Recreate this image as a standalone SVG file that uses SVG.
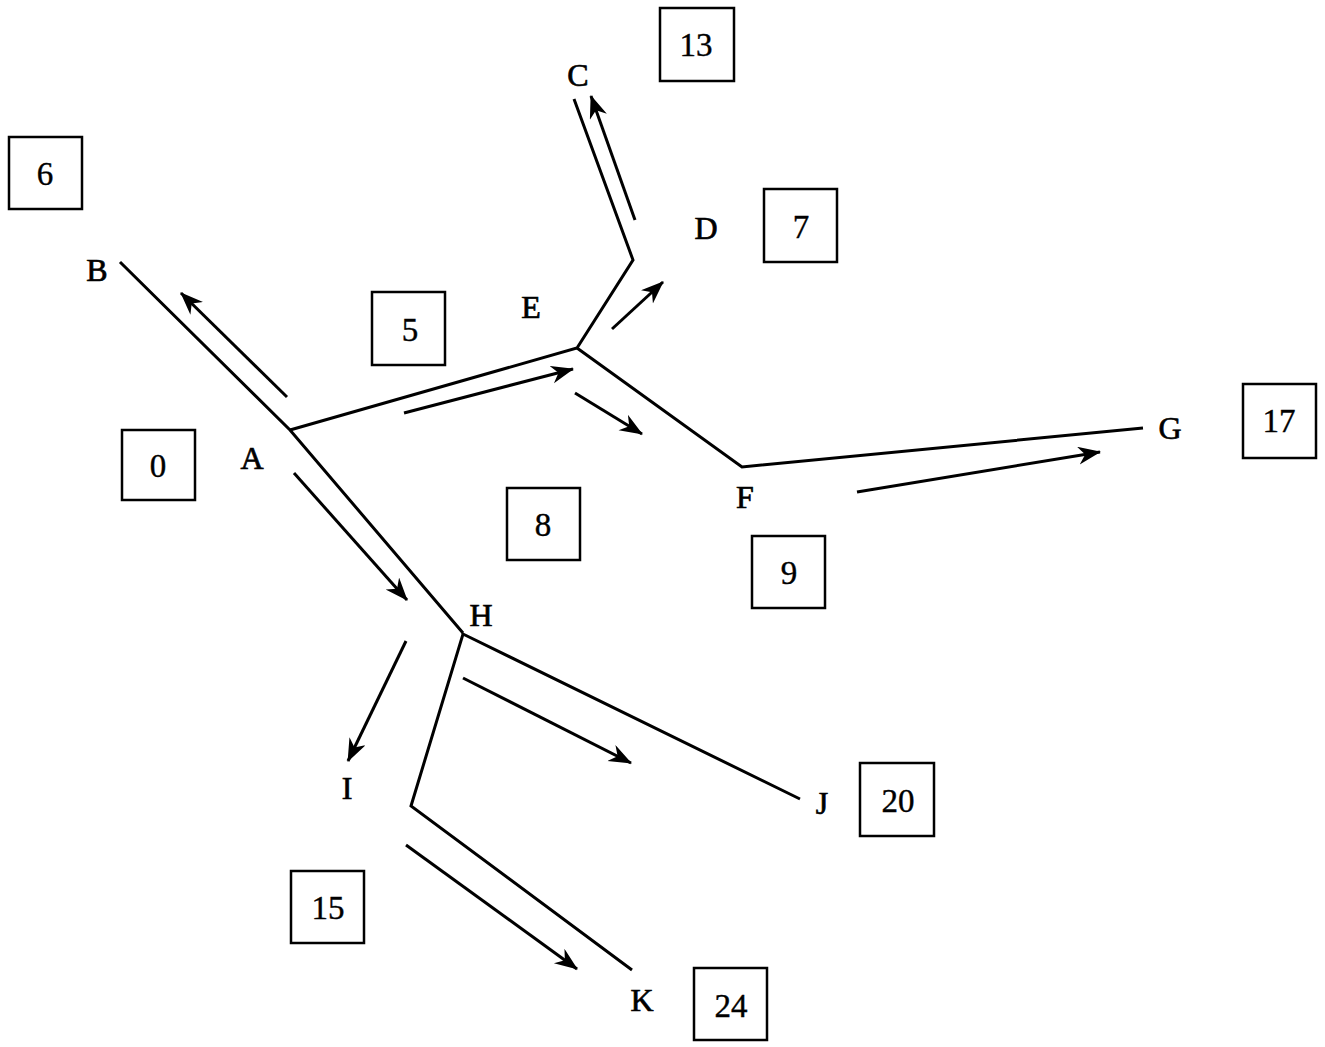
<svg xmlns="http://www.w3.org/2000/svg" width="1325" height="1047" viewBox="0 0 1325 1047">
<defs>
<marker id="ah" markerUnits="userSpaceOnUse" markerWidth="26" markerHeight="20" refX="22" refY="9" orient="auto">
<path d="M0,0 L23,9 L0,18 L7,9 z" fill="#000"/>
</marker>
<style>
.edge{fill:none;stroke:#000;stroke-width:3;stroke-linejoin:miter}
.arr{fill:none;stroke:#000;stroke-width:3;marker-end:url(#ah)}
.box{fill:#fff;stroke:#000;stroke-width:2.5}
.num{font-family:"Liberation Serif",serif;font-size:33px;text-anchor:middle;fill:#000;stroke:#000;stroke-width:0.4}
.lbl{font-family:"Liberation Serif",serif;font-size:32px;text-anchor:middle;fill:#000;stroke:#000;stroke-width:0.7}
</style>
</defs>
<rect width="1325" height="1047" fill="#fff"/>
<g id="connectors">
<polyline class="edge" points="120,262 290,430 463,633"/>
<polyline class="edge" points="290,430 577,348 633,260 574,99"/>
<polyline class="edge" points="577,348 742,467 1143,428"/>
<polyline class="edge" points="800,799 463,634 411,806 632,970"/>
<line class="arr" x1="287" y1="397" x2="181" y2="293"/>
<line class="arr" x1="404" y1="413" x2="573" y2="369"/>
<line class="arr" x1="575" y1="393" x2="642" y2="434"/>
<line class="arr" x1="612" y1="329" x2="663" y2="282"/>
<line class="arr" x1="635" y1="220" x2="591" y2="96"/>
<line class="arr" x1="294" y1="473" x2="407" y2="600"/>
<line class="arr" x1="406" y1="641" x2="348" y2="761"/>
<line class="arr" x1="463" y1="678" x2="631" y2="763"/>
<line class="arr" x1="406" y1="845" x2="577" y2="969"/>
<line class="arr" x1="857" y1="492" x2="1100" y2="452"/>
</g>
<g id="node-A"><text class="lbl" x="252" y="469">A</text><rect class="box" x="122" y="430" width="73" height="70"/><text class="num" x="158" y="477">0</text></g>
<g id="node-B"><text class="lbl" x="97" y="281">B</text><rect class="box" x="9" y="137" width="73" height="72"/><text class="num" x="45" y="185">6</text></g>
<g id="node-C"><text class="lbl" x="578" y="86">C</text><rect class="box" x="660" y="8" width="74" height="73"/><text class="num" x="696" y="56">13</text></g>
<g id="node-D"><text class="lbl" x="706" y="239">D</text><rect class="box" x="764" y="189" width="73" height="73"/><text class="num" x="801" y="238">7</text></g>
<g id="node-E"><text class="lbl" x="531" y="318">E</text><rect class="box" x="372" y="292" width="73" height="73"/><text class="num" x="410" y="341">5</text></g>
<g id="node-F"><text class="lbl" x="745" y="508">F</text><rect class="box" x="752" y="536" width="73" height="72"/><text class="num" x="789" y="584">9</text></g>
<g id="node-G"><text class="lbl" x="1170" y="439">G</text><rect class="box" x="1243" y="384" width="73" height="74"/><text class="num" x="1279" y="432">17</text></g>
<g id="node-H"><text class="lbl" x="481" y="626">H</text><rect class="box" x="507" y="488" width="73" height="72"/><text class="num" x="543" y="536">8</text></g>
<g id="node-I"><text class="lbl" x="347" y="799">I</text></g>
<g id="node-J"><text class="lbl" x="822" y="814">J</text><rect class="box" x="860" y="763" width="74" height="73"/><text class="num" x="898" y="812">20</text></g>
<g id="node-K"><text class="lbl" x="642" y="1011">K</text><rect class="box" x="694" y="968" width="73" height="72"/><text class="num" x="731" y="1017">24</text></g>
<g id="node-I-box"><rect class="box" x="291" y="871" width="73" height="72"/><text class="num" x="328" y="919">15</text></g>
</svg>
